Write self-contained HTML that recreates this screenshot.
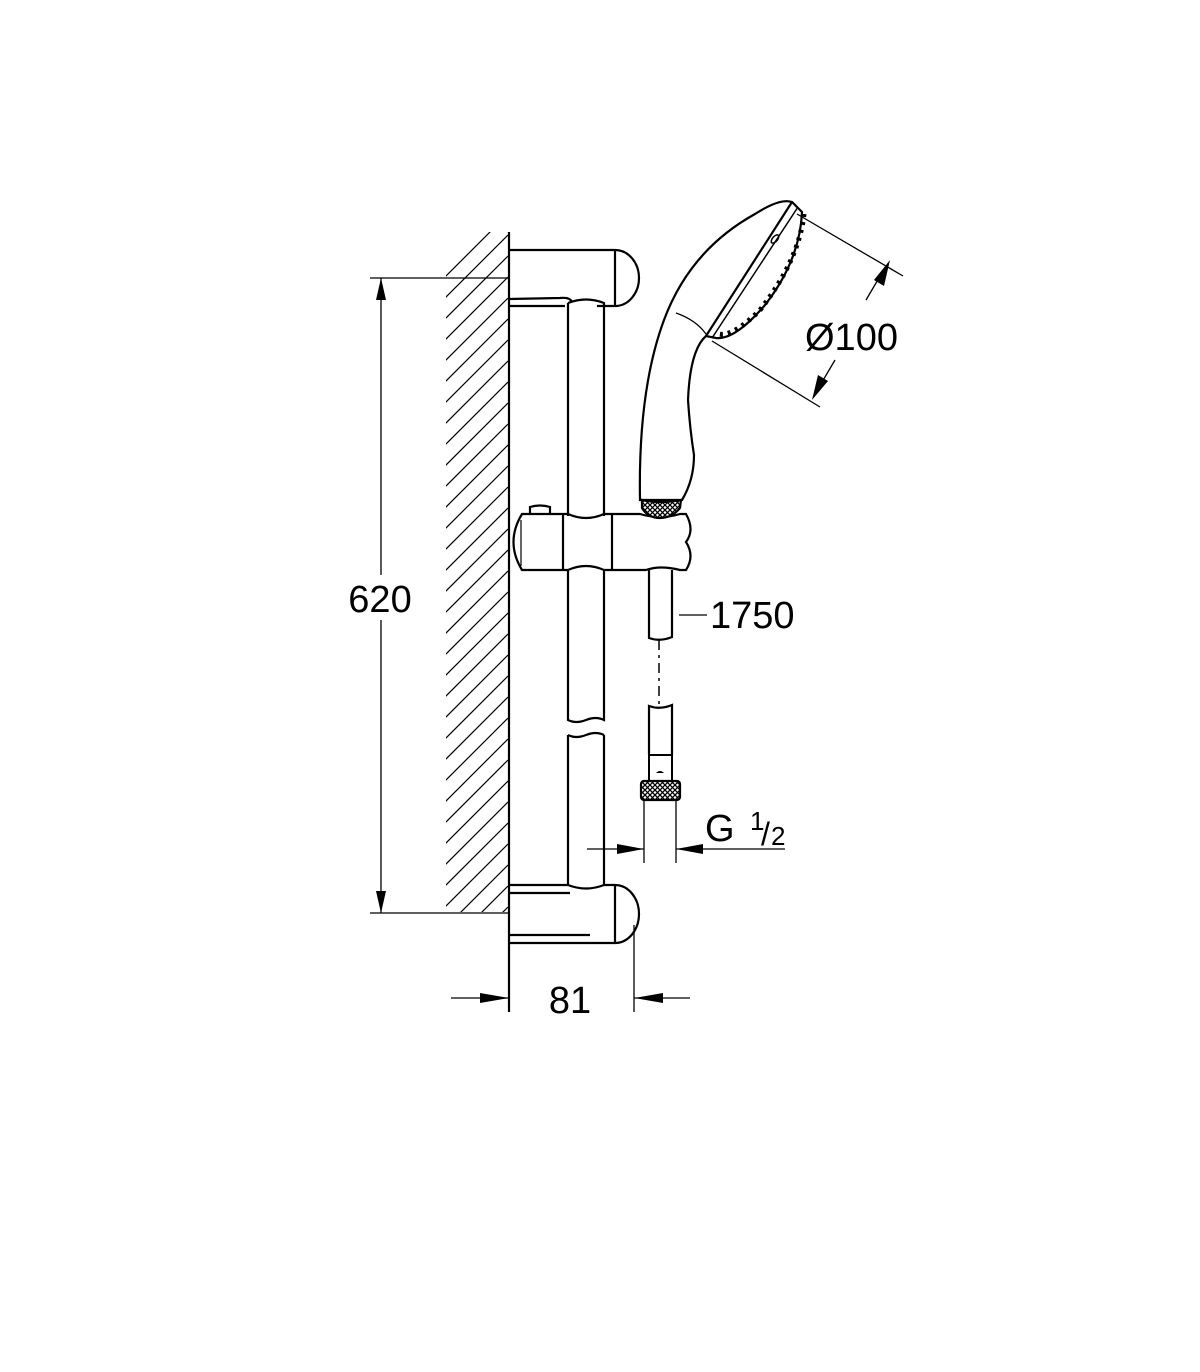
<!DOCTYPE html>
<html><head><style>body{margin:0;background:#fff}svg{display:block}</style></head><body>
<svg width="1200" height="1372" viewBox="0 0 1200 1372" xmlns="http://www.w3.org/2000/svg" font-family="Liberation Sans, sans-serif">
<defs>
<clipPath id="hc"><rect x="446" y="232" width="62" height="680"/></clipPath>
<pattern id="kn" width="5" height="5" patternUnits="userSpaceOnUse"><rect width="5" height="5" fill="#fff"/><path d="M0 0L5 5M5 0L0 5" stroke="#000" stroke-width="1.3"/></pattern>
</defs>
<g clip-path="url(#hc)" stroke="#000" stroke-width="1.2" fill="none">
<path d="M508 214L428 294M508 235L428 315M508 256L428 336M508 277L428 357M508 298L428 378M508 319L428 399M508 340L428 420M508 361L428 441M508 382L428 462M508 403L428 483M508 424L428 504M508 445L428 525M508 466L428 546M508 487L428 567M508 508L428 588M508 529L428 609M508 550L428 630M508 571L428 651M508 592L428 672M508 613L428 693M508 634L428 714M508 655L428 735M508 676L428 756M508 697L428 777M508 718L428 798M508 739L428 819M508 760L428 840M508 781L428 861M508 802L428 882M508 823L428 903M508 844L428 924M508 865L428 945M508 886L428 966M508 907L428 987M508 928L428 1008"/>
</g>
<g stroke="#000" fill="none" stroke-width="2.2">
<line x1="509" y1="232" x2="509" y2="1012"/>
<!-- top bracket -->
<path d="M509 250L600 250Q610 250 615 250A24 28 0 0 1 615 306Q600 306 597 306"/>
<line x1="615" y1="250" x2="615" y2="306"/>
<path d="M509 299L560 298Q570 297 572 302"/>
<path d="M509 306L565 306"/>
<!-- rail -->
<path d="M568 303Q586 296 604 303L604 516"/>
<line x1="568" y1="303" x2="568" y2="516"/>
<path d="M568 570L568 720Q576 724 586 720Q596 716 604 720L604 570"/>
<path d="M568 735Q576 739 586 735Q596 731 604 735"/>
<path d="M568 735L568 885Q586 892 604 885L604 735"/>
<!-- bottom bracket -->
<path d="M509 885L568 885M509 893L570 893"/>
<path d="M604 885L615 885A24 29 0 0 1 615 943L509 943"/>
<line x1="615" y1="885" x2="615" y2="943"/>
<path d="M509 935L590 935"/>
<!-- slider -->
<path d="M530 514L568 514Q586 522 604 514L640 514Q660 520 680 514L686 514Q695 530 686 542Q695 556 686 570L680 570Q660 565 646 570L604 570Q586 562 568 570L530 570L522 570Q505 542 522 514Z"/>
<line x1="563" y1="514" x2="563" y2="570"/><line x1="612" y1="514" x2="612" y2="570"/>
<line x1="521" y1="520" x2="521" y2="566" stroke-width="1.2"/>
<path d="M530 514L530 507Q540 504 550 507L550 514"/>
<!-- handle -->
<path d="M640 500Q638 390 664 320Q690 250 755 214Q780 198 792 202L802 212Q800 260 765 305Q735 340 716 338L706 336Q690 350 688 400Q690 430 694 455Q694 480 682 500Z"/>
<path d="M792 202L706 336"/>
<path d="M798 207L712 338" stroke-width="1.5"/>
<path d="M676 313Q696 320 706 334" stroke-width="1.2"/>
<ellipse cx="775" cy="239" rx="2.5" ry="5" transform="rotate(40 775 239)" stroke-width="1.5"/>
<path d="M804 214Q799 260 760 310Q730 340 716 333" stroke-width="5" stroke-dasharray="3 5"/>
<path d="M642 500Q660 504 681 500L680 508Q672 518 660 518Q648 518 642 508Z" fill="url(#kn)"/>
<!-- hose -->
<path d="M649 570L649 638Q660 642 672 637L672 570"/>
<line x1="659" y1="640" x2="659" y2="705" stroke-width="1.5" stroke-dasharray="10 5 3 5"/>
<path d="M649 755L649 706Q660 710 672 705L672 755"/>
<rect x="649" y="755" width="23" height="26" stroke-width="2"/>
<rect x="641" y="781" width="39" height="19" rx="3" fill="url(#kn)"/>
</g>
<path d="M656 773q4 -4 8 0z" fill="#000"/>
<!-- dimensions -->
<g stroke="#000" stroke-width="1.3" fill="none">
<line x1="370" y1="278" x2="509" y2="278"/><line x1="370" y1="913" x2="509" y2="913"/>
<line x1="381" y1="278" x2="381" y2="575"/><line x1="381" y1="620" x2="381" y2="913"/>
<line x1="679" y1="615" x2="707" y2="615"/>
<line x1="644" y1="800" x2="644" y2="863"/><line x1="676" y1="800" x2="676" y2="863"/>
<line x1="587" y1="849" x2="644" y2="849"/><line x1="676" y1="849" x2="785" y2="849"/>
<line x1="509" y1="943" x2="509" y2="1012"/><line x1="634" y1="925" x2="634" y2="1012"/>
<line x1="451" y1="998" x2="509" y2="998"/><line x1="634" y1="998" x2="690" y2="998"/>
<line x1="797" y1="214" x2="903" y2="276"/><line x1="712" y1="341" x2="820" y2="407"/>
<line x1="886" y1="266" x2="866" y2="300"/><line x1="835" y1="360" x2="815" y2="394"/>
</g>
<g fill="#000">
<path d="M381 278L376 300L386 300Z"/><path d="M381 913L376 891L386 891Z"/>
<path d="M644 849L617 844L617 854Z"/><path d="M676 849L703 844L703 854Z"/>
<path d="M509 998L480 993L480 1003Z"/><path d="M634 998L663 993L663 1003Z"/>
<path d="M890 260L874 280L884 286Z"/><path d="M812 400L818 375L828 381Z"/>
</g>
<g font-size="38" fill="#000">
<text x="380" y="612" text-anchor="middle">620</text>
<text x="805" y="350">Ø100</text>
<text x="710" y="628">1750</text>
<text x="705" y="841">G</text>
<text x="750" y="830" font-size="26">1</text>
<text x="761" y="845" font-size="32">/</text>
<text x="771" y="845" font-size="26">2</text>
<text x="570" y="1013" text-anchor="middle">81</text>
</g>
</svg>
</body></html>
